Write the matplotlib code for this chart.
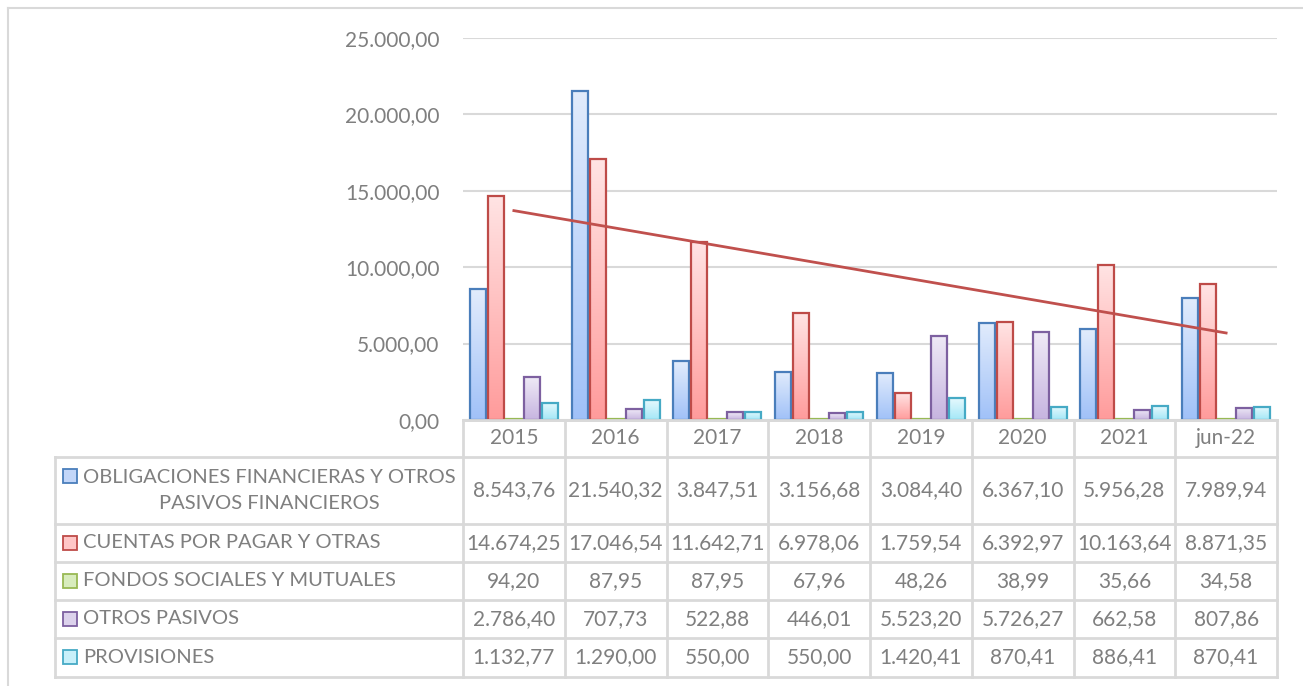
import numpy as np
import matplotlib
matplotlib.use("Agg")
import matplotlib.pyplot as plt
from matplotlib.colors import LinearSegmentedColormap
from matplotlib.lines import Line2D
from matplotlib.patches import Rectangle
from matplotlib.ticker import FuncFormatter, MultipleLocator
from matplotlib.transforms import blended_transform_factory

plt.rcParams['font.family'] = ['Lato', 'DejaVu Sans']

categories = ["2015", "2016", "2017", "2018", "2019", "2020", "2021", "jun-22"]
series_names = [
    "OBLIGACIONES FINANCIERAS Y OTROS\nPASIVOS FINANCIEROS",
    "CUENTAS POR PAGAR Y OTRAS",
    "FONDOS SOCIALES Y MUTUALES",
    "OTROS PASIVOS",
    "PROVISIONES",
]
obligaciones = [8543.76, 21540.32, 3847.51, 3156.68, 3084.40, 6367.10, 5956.28, 7989.94]
cuentas = [14674.25, 17046.54, 11642.71, 6978.06, 1759.54, 6392.97, 10163.64, 8871.35]
fondos = [94.20, 87.95, 87.95, 67.96, 48.26, 38.99, 35.66, 34.58]
otros = [2786.40, 707.73, 522.88, 446.01, 5523.20, 5726.27, 662.58, 807.86]
provisiones = [1132.77, 1290.00, 550.00, 550.00, 1420.41, 870.41, 886.41, 870.41]
series_values = [obligaciones, cuentas, fondos, otros, provisiones]

edge_colors = ["#4a7ebb", "#be4b48", "#98b954", "#7d60a0", "#46aac5"]
grad_top = ["#e2ecfc", "#ffe4e4", "#eff7e2", "#efeaf6", "#e6f9fd"]
grad_bot = ["#a0c1f8", "#ff9b9b", "#c2e29a", "#c6b4e0", "#a3e7f7"]
marker_face = ["#c2d6f9", "#ffc6c6", "#d8ecbd", "#dcd2ec", "#c8f0fa"]

W, H = 1303, 686
fig = plt.figure(figsize=(W / 100, H / 100), dpi=100)
fig.patch.set_facecolor("white")

def fx(px):
    return px / W

def fy(py):
    return 1 - py / H

ax_left, ax_right, ax_top, ax_bot = 463, 1277, 37.7, 420
ax = fig.add_axes([fx(ax_left), fy(ax_bot), fx(ax_right - ax_left), (ax_bot - ax_top) / H])

txt_color = "#7f7f7f"
grid_color = "#d9d9d9"
fs = 14.5
fs_val = 15
fs_tick = 15

n = len(categories)
x = np.arange(n)
slot = 0.177
bw = 0.157
for j, vals in enumerate(series_values):
    offs = (j - 2) * slot
    bars = ax.bar(x + offs, vals, width=bw, facecolor="none",
                  edgecolor=edge_colors[j], linewidth=1.6, zorder=4)
    cmap = LinearSegmentedColormap.from_list(f"g{j}", [grad_top[j], grad_bot[j]])
    grad = np.linspace(0, 1, 256).reshape(-1, 1)
    for b in bars:
        bx, by = b.get_x(), b.get_y()
        bwid, bh = b.get_width(), b.get_height()
        ax.imshow(grad, extent=[bx, bx + bwid, by, by + bh], aspect="auto",
                  cmap=cmap, zorder=3, interpolation="bilinear")

# linear trendline on CUENTAS POR PAGAR
coef = np.polyfit(x, cuentas, 1)
ax.plot(x, np.polyval(coef, x), color="#c0504d", linewidth=2, zorder=5)

ax.set_xlim(-0.5, n - 0.5)
ax.set_ylim(0, 25000)
ax.yaxis.set_major_locator(MultipleLocator(5000))

def es_fmt(v, pos=None):
    s = f"{v:,.2f}"
    return s.replace(",", "X").replace(".", ",").replace("X", ".")

ax.yaxis.set_major_formatter(FuncFormatter(es_fmt))
ax.tick_params(axis="y", length=0, pad=17, labelsize=fs_tick, labelcolor=txt_color)
ax.tick_params(axis="x", length=0, labelbottom=False)
ax.grid(axis="y", color=grid_color, linewidth=1.5, zorder=0)
ax.set_axisbelow(True)
for s in ["top", "right", "left"]:
    ax.spines[s].set_visible(False)
ax.spines["bottom"].set_color(grid_color)
ax.spines["bottom"].set_linewidth(2)

# ---- data table ----
lc = grid_color
lw = 2
row_edges = [420, 457, 524, 562, 600, 638, 676.5]
tab_left = 55
fig.add_artist(Line2D([fx(ax_left), fx(ax_right)], [fy(row_edges[0])] * 2, color=lc, lw=lw))
for yy in row_edges[1:]:
    fig.add_artist(Line2D([fx(tab_left), fx(ax_right)], [fy(yy)] * 2, color=lc, lw=lw))
col_w = (ax_right - ax_left) / n
for k in range(n + 1):
    xx = ax_left + k * col_w
    fig.add_artist(Line2D([fx(xx)] * 2, [fy(row_edges[0]), fy(row_edges[-1])], color=lc, lw=lw))
fig.add_artist(Line2D([fx(tab_left)] * 2, [fy(row_edges[1]), fy(row_edges[-1])], color=lc, lw=lw))

trans = blended_transform_factory(ax.transData, fig.transFigure)
hdr_y = fy((row_edges[0] + row_edges[1]) / 2)
for i, c in enumerate(categories):
    fig.text(x[i], hdr_y, c, transform=trans, ha="center", va="center",
             fontsize=fs_val, color=txt_color)

for j, (name, vals) in enumerate(zip(series_names, series_values)):
    yc = fy((row_edges[j + 1] + row_edges[j + 2]) / 2)
    for i, v in enumerate(vals):
        fig.text(x[i], yc, es_fmt(v), transform=trans, ha="center", va="center",
                 fontsize=fs_val, color=txt_color)
    if "\n" in name:
        fig.text(fx(269), yc, name, ha="center", va="center", multialignment="center",
                 fontsize=fs, color=txt_color, linespacing=1.6)
        my = row_edges[j + 1] + 19
    else:
        fig.text(fx(83), yc, name, ha="left", va="center", fontsize=fs, color=txt_color)
        my = (row_edges[j + 1] + row_edges[j + 2]) / 2
    fig.add_artist(Rectangle((fx(63), fy(my + 7)), fx(14), 14 / H, facecolor=marker_face[j],
                             edgecolor=edge_colors[j], linewidth=1.3))

# chart border (top/left visible)
fig.add_artist(Line2D([fx(8), fx(1303)], [fy(8)] * 2, color=lc, lw=1.5))
fig.add_artist(Line2D([fx(8)] * 2, [fy(8), fy(686)], color=lc, lw=1.5))

fig.savefig("out.png", dpi=100, facecolor="white")
